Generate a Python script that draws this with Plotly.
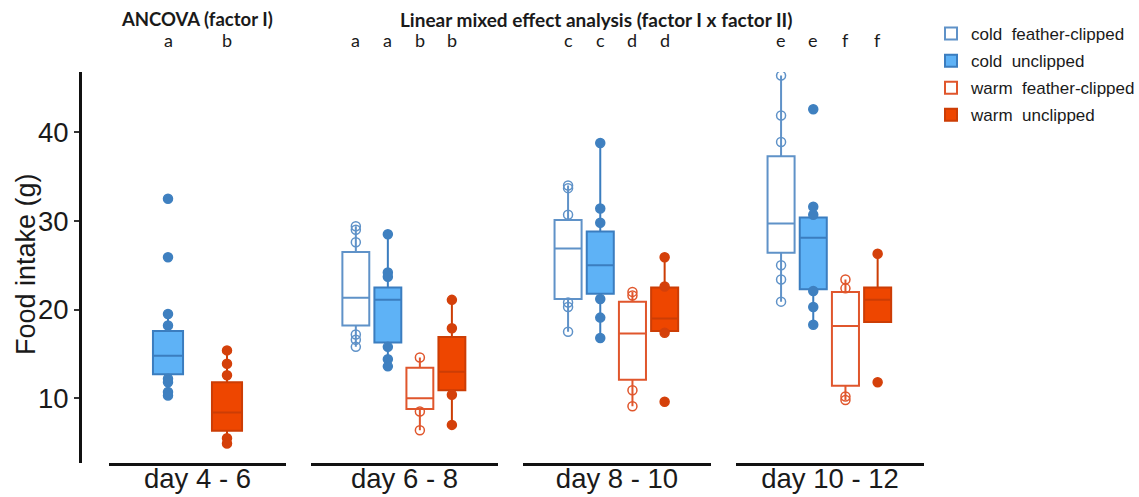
import plotly.graph_objects as go

# ---- data -------------------------------------------------------------
# pooled first period (factor I only)
pooled_groups = ["cold", "warm"]
pooled_q1 = [12.7, 6.35]
pooled_median = [14.8, 8.4]
pooled_q3 = [17.6, 11.8]
pooled_low = [10.3, 4.9]
pooled_high = [19.5, 15.4]
pooled_points = [
    [32.5, 25.9, 19.5, 18.2, 12.2, 11.8, 10.7, 10.3],
    [15.4, 13.9, 12.6, 5.5, 4.9],
]
pooled_letters = ["a", "b"]

# later periods (factor I x factor II)
periods = ["day 6 - 8", "day 8 - 10", "day 10 - 12"]
groups = ["cold feather-clipped", "cold unclipped", "warm feather-clipped", "warm unclipped"]
legend_names = ["cold\u00a0 feather-clipped", "cold\u00a0 unclipped",
                "warm\u00a0 feather-clipped", "warm\u00a0 unclipped"]

q1 = {
    "cold feather-clipped": [18.2, 21.2, 26.4],
    "cold unclipped": [16.3, 21.8, 22.3],
    "warm feather-clipped": [8.8, 12.1, 11.4],
    "warm unclipped": [10.9, 17.6, 18.6],
}
median = {
    "cold feather-clipped": [21.35, 26.9, 29.7],
    "cold unclipped": [21.1, 25.0, 28.1],
    "warm feather-clipped": [10.0, 17.3, 18.15],
    "warm unclipped": [13.0, 19.0, 21.1],
}
q3 = {
    "cold feather-clipped": [26.5, 30.1, 37.3],
    "cold unclipped": [22.5, 28.8, 30.4],
    "warm feather-clipped": [13.45, 20.9, 22.0],
    "warm unclipped": [16.9, 22.5, 22.5],
}
whisker_low = {
    "cold feather-clipped": [15.8, 17.5, 20.9],
    "cold unclipped": [13.6, 16.8, 18.3],
    "warm feather-clipped": [6.4, 9.1, 9.8],
    "warm unclipped": [7.0, 17.4, 18.6],
}
whisker_high = {
    "cold feather-clipped": [29.4, 34.0, 46.4],
    "cold unclipped": [28.5, 38.8, 31.6],
    "warm feather-clipped": [14.6, 22.0, 23.4],
    "warm unclipped": [21.1, 25.9, 26.3],
}
points = {
    "cold feather-clipped": [[29.4, 29.0, 27.6, 17.2, 16.6, 15.8],
                             [34.0, 33.7, 30.7, 20.8, 20.3, 17.5],
                             [46.4, 41.9, 38.9, 25.0, 23.4, 20.9]],
    "cold unclipped": [[28.5, 24.2, 23.7, 15.8, 14.4, 13.6],
                       [38.8, 31.4, 29.8, 21.2, 19.1, 16.8],
                       [42.6, 31.6, 30.7, 22.1, 20.3, 18.3]],
    "warm feather-clipped": [[14.6, 8.5, 6.4],
                             [22.0, 21.6, 10.9, 9.1],
                             [23.4, 22.4, 10.2, 9.8]],
    "warm unclipped": [[21.1, 17.9, 10.4, 7.0],
                       [25.9, 22.6, 17.4, 9.6],
                       [26.3, 11.8]],
}
letters = {
    "day 6 - 8": ["a", "a", "b", "b"],
    "day 8 - 10": ["c", "c", "d", "d"],
    "day 10 - 12": ["e", "e", "f", "f"],
}

# ---- styling ----------------------------------------------------------
W, H = 1139, 497
ML, MR, MT, MB = 80, 0, 72, 34

def px_x(p):
    return (p - ML) / (W - ML - MR)

def px_y(p):
    return (H - MB - p) / (H - MT - MB)

line_col = {
    "cold feather-clipped": "#5f92c8",
    "cold unclipped": "#3b7dbf",
    "warm feather-clipped": "#e0562c",
    "warm unclipped": "#cc3d05",
}
fill_col = {
    "cold feather-clipped": "#ffffff",
    "cold unclipped": "#5eb2f6",
    "warm feather-clipped": "#ffffff",
    "warm unclipped": "#ee4600",
}
point_col = {
    "cold feather-clipped": "#5f92c8",
    "cold unclipped": "#3f80c0",
    "warm feather-clipped": "#e0562c",
    "warm unclipped": "#d4400a",
}
open_marker = {
    "cold feather-clipped": True,
    "cold unclipped": False,
    "warm feather-clipped": True,
    "warm unclipped": False,
}
pooled_style = ["cold unclipped", "warm unclipped"]

TEXT_FONT = "Liberation Sans, Arial, sans-serif"
STAT_FONT = "Lato, Carlito, Calibri, sans-serif"
INK = "#1a1a1a"

fig = go.Figure()

def add_points(xref, cat, vals, style):
    is_open = open_marker[style]
    fig.add_trace(go.Scatter(
        x=[cat] * len(vals), y=vals, mode="markers",
        xaxis=xref, yaxis="y", showlegend=False, hoverinfo="y",
        marker=dict(
            size=9,
            symbol="circle-open" if is_open else "circle",
            color=point_col[style],
            line=dict(width=1.5, color=point_col[style]),
        ),
    ))

def add_box(xref, cat, a, m, b, lo, hi, style, width, name, show):
    fig.add_trace(go.Box(
        x=[cat], q1=[a], median=[m], q3=[b], lowerfence=[lo], upperfence=[hi],
        xaxis=xref, yaxis="y", name=name, legendgroup=style, showlegend=show,
        boxpoints=False, whiskerwidth=0, width=width,
        fillcolor=fill_col[style], line=dict(color=line_col[style], width=2),
    ))

# first panel: pooled boxes
for i, g in enumerate(pooled_groups):
    add_points("x", g, pooled_points[i], pooled_style[i])
for i, g in enumerate(pooled_groups):
    add_box("x", g, pooled_q1[i], pooled_median[i], pooled_q3[i],
            pooled_low[i], pooled_high[i], pooled_style[i], 0.51, g, False)

# remaining panels
for p, period in enumerate(periods):
    xref = "x%d" % (p + 2)
    for g in groups:
        add_points(xref, g, points[g][p], g)
    for k, g in enumerate(groups):
        add_box(xref, g, q1[g][p], median[g][p], q3[g][p],
                whisker_low[g][p], whisker_high[g][p], g, 0.84,
                legend_names[k], p == 0)

# ---- axes -------------------------------------------------------------
panel_px = [(109, 286), (311, 498), (523, 711), (736, 924)]
panel_titles = ["day 4 - 6"] + periods

def x_axis(i):
    lo, hi = panel_px[i]
    cats = pooled_groups if i == 0 else groups
    rng = [-1.0, 2.0] if i == 0 else [-1.4, 4.44]
    return dict(
        domain=[px_x(lo), px_x(hi)], anchor="y", type="category",
        categoryorder="array", categoryarray=cats, range=rng,
        showline=True, linewidth=3, linecolor="#111111",
        showticklabels=False, ticks="", showgrid=False, zeroline=False,
        title=dict(text=panel_titles[i], standoff=4,
                   font=dict(family=TEXT_FONT, size=27.5, color=INK)),
        fixedrange=True,
    )

layout = dict(
    width=W, height=H,
    margin=dict(l=ML, r=MR, t=MT, b=MB, pad=0, autoexpand=False),
    paper_bgcolor="white", plot_bgcolor="white",
    boxmode="overlay",
    yaxis=dict(
        anchor="free", position=0, range=[2.7, 46.8],
        tickvals=[10, 20, 30, 40], ticks="outside", ticklen=5, tickwidth=1.5,
        tickcolor="#333333", showline=True, linewidth=3, linecolor="#111111",
        showgrid=False, zeroline=False,
        tickfont=dict(family=TEXT_FONT, size=27.5, color=INK),
        automargin=False,
    ),
    legend=dict(
        x=px_x(931), y=px_y(16), xanchor="left", yanchor="top",
        traceorder="grouped", tracegroupgap=2,
        font=dict(family=TEXT_FONT, size=17, color=INK),
        bgcolor="rgba(0,0,0,0)", itemsizing="constant",
    ),
    showlegend=True,
)
for i in range(4):
    layout["xaxis" if i == 0 else "xaxis%d" % (i + 1)] = x_axis(i)

fig.update_layout(**layout)

# y-axis title
fig.add_annotation(x=px_x(26), xref="paper", y=px_y(264), yref="paper",
                   text="Food intake (g)", textangle=-90, showarrow=False,
                   xanchor="center", yanchor="middle",
                   font=dict(family=TEXT_FONT, size=27, color=INK))

# ---- significance letters and headers ---------------------------------
for i, g in enumerate(pooled_groups):
    fig.add_annotation(x=g, xref="x", y=px_y(40), yref="paper",
                       xanchor="center", yanchor="middle",
                       text=pooled_letters[i], showarrow=False,
                       font=dict(family=STAT_FONT, size=18, color=INK))
for p, period in enumerate(periods):
    for k, g in enumerate(groups):
        fig.add_annotation(x=g, xref="x%d" % (p + 2), y=px_y(40), yref="paper",
                           xanchor="center", yanchor="middle",
                           text=letters[period][k], showarrow=False,
                           font=dict(family=STAT_FONT, size=18, color=INK))

fig.add_annotation(x=px_x(197), xref="paper", y=px_y(19), yref="paper",
                   xanchor="center", yanchor="middle",
                   text="<b>ANCOVA (factor I)</b>", showarrow=False,
                   font=dict(family=STAT_FONT, size=18.5, color=INK))
fig.add_annotation(x=px_x(596), xref="paper", y=px_y(19), yref="paper",
                   xanchor="center", yanchor="middle",
                   text="<b>Linear mixed effect analysis (factor I x factor II)</b>",
                   showarrow=False,
                   font=dict(family=STAT_FONT, size=19, color=INK))

fig.write_html("out.html")
